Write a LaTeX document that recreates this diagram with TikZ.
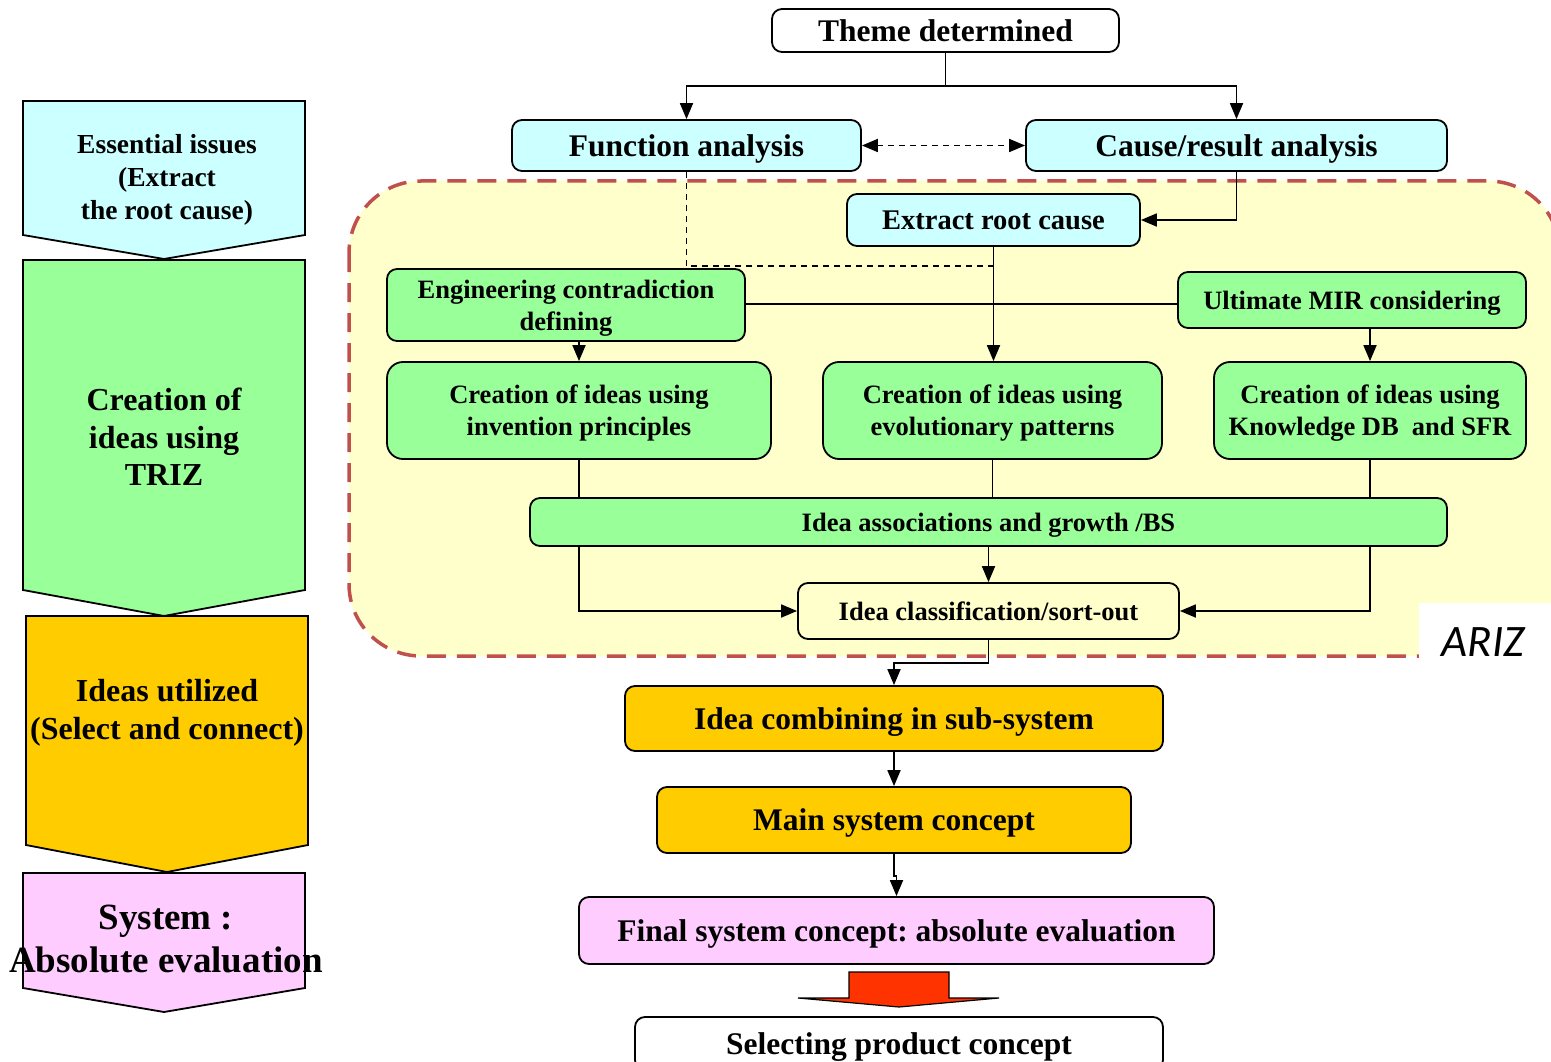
\documentclass[tikz,border=0pt]{standalone}
\usepackage{fontspec}
\setmainfont{Liberation Serif}
\newfontfamily\arizfont{Carlito}
\usetikzlibrary{arrows.meta}
\frenchspacing
\definecolor{cyanbox}{HTML}{CCFFFF}
\definecolor{greenbox}{HTML}{99FF99}
\definecolor{orangebox}{HTML}{FFCC00}
\definecolor{pinkbox}{HTML}{FFCCFF}
\definecolor{yellowbg}{HTML}{FFFFCC}
\definecolor{dashred}{HTML}{C0504D}
\definecolor{redarrow}{HTML}{FF3300}
\newcommand{\fszA}{\fontsize{31.5}{35}\selectfont\bfseries\frenchspacing}
\newcommand{\fszB}{\fontsize{28.5}{32}\selectfont\bfseries}
\newcommand{\fszC}{\fontsize{26.5}{32}\selectfont\bfseries}
\tikzset{
  box/.style={draw, line width=1.8pt, rounded corners=10pt, inner sep=0pt, align=center, text depth=0pt},
  conn/.style={line width=1.8pt, -{Triangle[length=16pt,width=13pt]}},
  plain/.style={line width=1.8pt},
  pent/.style={draw, line width=1.8pt, line join=miter},
}
\begin{document}
\begin{tikzpicture}[x=1pt,y=-1pt]
\useasboundingbox (0,0) rectangle (1551,1062);
\begin{scope}
\clip (0,0) rectangle (1551,1062);
\fill[white] (0,0) rectangle (1551,1062);

% ARIZ region
\draw[fill=yellowbg, draw=dashred, line width=3.5pt, dash pattern=on 19pt off 11pt, rounded corners=72pt] (349,181) rectangle (1560,656);
\fill[white] (1419,603) rectangle (1560,700);
\node[font=\arizfont\itshape\fontsize{45}{48}\selectfont] (ariz) at (1483,642) {ARIZ};

% left column
\draw[pent, fill=cyanbox] (23,101) -- (305,101) -- (305,235) -- (164,259) -- (23,235) -- cycle;
\draw[pent, fill=greenbox] (23,260) -- (305,260) -- (305,590) -- (164,616) -- (23,590) -- cycle;
\draw[pent, fill=orangebox] (26,616) -- (308,616) -- (308,845) -- (167,872) -- (26,845) -- cycle;
\draw[pent, fill=pinkbox] (23,873) -- (305,873) -- (305,988) -- (164,1012) -- (23,988) -- cycle;
\node[align=center, font=\fontsize{27.5}{33}\selectfont\bfseries] (lt1) at (167,180) {Essential issues\\(Extract\\the root cause)};
\node[align=center, font=\fontsize{32}{37.5}\selectfont\bfseries] (lt2) at (164,437) {Creation of\\ideas using\\TRIZ};
\node[align=center, font=\fontsize{32}{38}\selectfont\bfseries] (lt3) at (167,713) {Ideas utilized\\(Select and connect)};
\node[align=center, font=\fontsize{37}{43}\selectfont\bfseries] (lt4) at (166,939) {System :\\Absolute evaluation};

% right column boxes
\node[box, fill=white, minimum width=347pt, minimum height=43pt, font=\fszA] (theme) at (945.5,30.5) {Theme determined};
\node[box, fill=cyanbox, minimum width=349pt, minimum height=51pt, font=\fszA] (func) at (686.5,145.5) {Function analysis};
\node[box, fill=cyanbox, minimum width=421pt, minimum height=51pt, font=\fszA] (cause) at (1236.5,145.5) {Cause/result analysis};
\node[box, fill=cyanbox, minimum width=293pt, minimum height=52pt, font=\fszB] (extract) at (993.5,220) {Extract root cause};
\node[box, fill=greenbox, minimum width=358pt, minimum height=72pt, font=\fszC] (eng) at (566,305) {Engineering contradiction\\defining};
\node[box, fill=greenbox, minimum width=348pt, minimum height=56pt, font=\fszC] (ult) at (1352,300) {Ultimate MIR considering};
\node[box, fill=greenbox, minimum width=384pt, minimum height=97pt, font=\fszC, rounded corners=16pt] (inv) at (579,410.5) {Creation of ideas using\\invention principles};
\node[box, fill=greenbox, minimum width=339pt, minimum height=97pt, font=\fszC, rounded corners=16pt] (evol) at (992.5,410.5) {Creation of ideas using\\evolutionary patterns};
\node[box, fill=greenbox, minimum width=312pt, minimum height=97pt, font=\fszC, rounded corners=16pt] (know) at (1370,410.5) {Creation of ideas using\\Knowledge DB~~and SFR};
\node[box, fill=greenbox, minimum width=917pt, minimum height=48pt, font=\fszC] (assoc) at (988.5,522) {Idea associations and growth /BS};
\node[box, fill=yellowbg, minimum width=381pt, minimum height=56pt, font=\fszC] (class) at (988.5,611) {Idea classification/sort-out};
\node[box, fill=orangebox, minimum width=538pt, minimum height=65pt, font=\fszA] (comb) at (894,718.5) {Idea combining in sub-system};
\node[box, fill=orangebox, minimum width=474pt, minimum height=66pt, font=\fszA] (main) at (894,820) {Main system concept};
\node[box, fill=pinkbox, minimum width=635pt, minimum height=67pt, font=\fszA] (final) at (896.5,930.5) {Final system concept: absolute evaluation};
\node[box, fill=white, minimum width=528pt, minimum height=53pt, font=\fszA] (select) at (899,1043.5) {Selecting product concept};

% connectors
\draw[conn] (theme.south) -- ++(0,33) -| (func.north);
\draw[conn] (theme.south) -- ++(0,33) -| (cause.north);
\draw[line width=1.8pt, dash pattern=on 6pt off 5pt, {Triangle[length=16pt,width=13pt]}-{Triangle[length=16pt,width=13pt]}] (func.east) -- (cause.west);
\draw[conn] (cause.south) |- (extract.east);
\coordinate (dj) at (993.5,266);
\draw[line width=1.8pt, dash pattern=on 6pt off 5pt] (func.south) |- (dj);
\draw[conn] (extract.south) -- (extract.south |- evol.north);
\draw[plain] (eng.east |- 0,304) -- (ult.west |- 0,304);
\draw[conn] (inv.north |- eng.south) -- (inv.north);
\draw[conn] (know.north |- ult.south) -- (know.north);
\draw[plain] (inv.south) -- (inv.south |- assoc.north);
\draw[plain] (evol.south) -- (evol.south |- assoc.north);
\draw[plain] (know.south) -- (know.south |- assoc.north);
\draw[conn] (assoc.south) -- (class.north);
\draw[conn] (inv.south |- assoc.south) |- (class.west);
\draw[conn] (know.south |- assoc.south) |- (class.east);
\draw[conn] (class.south) -- ++(0,23) -| (comb.north);
\draw[conn] (comb.south) -- (main.north);
\draw[conn] (main.south) -- ++(0,22) -| (final.north);

% red block arrow
\draw[fill=redarrow, line width=1.2pt, line join=miter] (849,972) -- (949,972) -- (949,998) -- (999,998) -- (899,1007) -- (798,998) -- (849,998) -- cycle;
\end{scope}
\end{tikzpicture}
\end{document}
